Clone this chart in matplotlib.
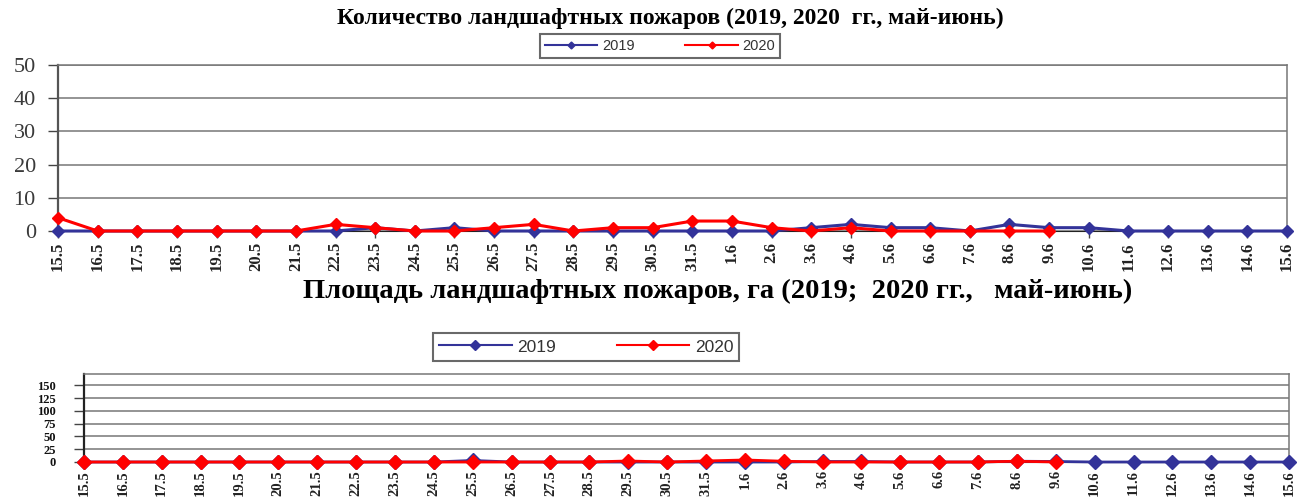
import numpy as np
import matplotlib
matplotlib.use('Agg')
import matplotlib.pyplot as plt
from matplotlib.lines import Line2D

# dates, May 15 .. June 15
dates = ['15.5', '16.5', '17.5', '18.5', '19.5', '20.5', '21.5', '22.5', '23.5',
         '24.5', '25.5', '26.5', '27.5', '28.5', '29.5', '30.5', '31.5',
         '1.6', '2.6', '3.6', '4.6', '5.6', '6.6', '7.6', '8.6', '9.6', '10.6',
         '11.6', '12.6', '13.6', '14.6', '15.6']

# number of fires
count_2019 = [0, 0, 0, 0, 0, 0, 0, 0, 1, 0, 1, 0, 0, 0, 0, 0, 0,
              0, 0, 1, 2, 1, 1, 0, 2, 1, 1, 0, 0, 0, 0, 0]
count_2020 = [4, 0, 0, 0, 0, 0, 0, 2, 1, 0, 0, 1, 2, 0, 1, 1, 3,
              3, 1, 0, 1, 0, 0, 0, 0, 0]

# burnt area, ha
area_2019 = [0, 0, 0, 0, 0, 0, 0, 0, 0, 0, 3, 0, 0, 0, 0, 0, 0,
             0, 0, 1, 1, 0, 0, 0, 1.5, 1, 0, 0, 0, 0, 0, 0]
area_2020 = [0, 0, 0, 0, 0, 0, 0, 0, 0, 0, 0, 0, 0, 0, 2, 0, 2,
             4, 1.5, 0, 0, 0, 0, 0, 1.5, 0]

count_ticks = [0, 10, 20, 30, 40, 50]
area_ticks = [0, 25, 50, 75, 100, 125, 150]

BLUE = '#333399'
RED = '#ff0000'
SERIF = 'Liberation Serif'
SANS = 'Liberation Sans'

fig = plt.figure(figsize=(13.02, 5.0), dpi=100)
ax1 = fig.add_axes([58 / 1302, 1 - 231 / 500, 1229 / 1302, 166 / 500])
ax2 = fig.add_axes([84 / 1302, 1 - 462 / 500, 1205 / 1302, 88 / 500])


def draw(ax, y19, y20, ticks, ymax, lw, ms, ylab_kw, left_col, xfs, xtl, ypad):
    x = np.arange(len(dates))
    ax.plot(x, y19, color=BLUE, lw=lw, marker='D', ms=ms, mec=BLUE, zorder=3, clip_on=False)
    ax.plot(x[:len(y20)], y20, color=RED, lw=lw, marker='D', ms=ms, mec=RED, zorder=4, clip_on=False)
    ax.set_xlim(0, len(dates) - 1)
    ax.set_ylim(0, ymax)
    ax.set_yticks(ticks)
    ax.set_yticklabels([str(t) for t in ticks], **ylab_kw)
    ax.set_xticks(x)
    ax.set_xticklabels(dates, rotation=90, family=SERIF, fontsize=xfs,
                       fontweight='bold', color='#222222')
    ax.grid(axis='y', color='#777777', lw=1.1)
    ax.set_axisbelow(True)
    ax.tick_params(axis='x', length=xtl, width=1, color='#444444', pad=3)
    ax.tick_params(axis='y', length=7, width=1, color='#444444', pad=ypad)
    for s in ['top', 'right']:
        ax.spines[s].set_color('#777777')
        ax.spines[s].set_linewidth(1.1)
    ax.spines['left'].set_color(left_col)
    ax.spines['left'].set_linewidth(1.6)
    ax.spines['bottom'].set_color('#222222')


draw(ax1, count_2019, count_2020, count_ticks, 50, 2.2, 6,
     dict(family=SERIF, fontsize=16, color='#3a3a3a'), '#555555', 12, 5, 9)
draw(ax2, area_2019, area_2020, area_ticks, 172, 2.0, 7,
     dict(family=SERIF, fontsize=9, fontweight='bold', color='#111111'), '#222222',
     10.5, 3, 13)

fig.text(670 / 1302, 1 - 18 / 500, 'Количество ландшафтных пожаров (2019, 2020  гг., май-июнь)',
         ha='center', va='center', family=SERIF, fontsize=17, fontweight='bold')
fig.text(718 / 1302, 1 - 291 / 500, 'Площадь ландшафтных пожаров, га (2019;  2020 гг.,   май-июнь)',
         ha='center', va='center', family=SERIF, fontsize=20.5, fontweight='bold')


def legend(ax, anchor, fs, ms, lw, width, sep):
    handles = [Line2D([], [], color=BLUE, lw=lw, marker='D', ms=ms),
               Line2D([], [], color=RED, lw=lw, marker='D', ms=ms)]
    leg = ax.legend(handles, ['2019', '2020'], loc='center', bbox_to_anchor=anchor,
                    bbox_transform=fig.transFigure, ncol=2, frameon=True,
                    prop=dict(family=SANS, size=fs), fancybox=False,
                    handlelength=width, columnspacing=sep, handletextpad=0.3,
                    borderpad=0.35, labelcolor='#333333')
    leg.get_frame().set_edgecolor('#444444')
    leg.get_frame().set_linewidth(1.5)


legend(ax1, (660 / 1302, 1 - 46 / 500), 10.5, 3.5, 1.5, 3.6, 3.5)
legend(ax2, (586 / 1302, 1 - 347 / 500), 12.5, 5, 1.5, 4.2, 3.5)

fig.savefig('out.png', dpi=100, facecolor='white')
